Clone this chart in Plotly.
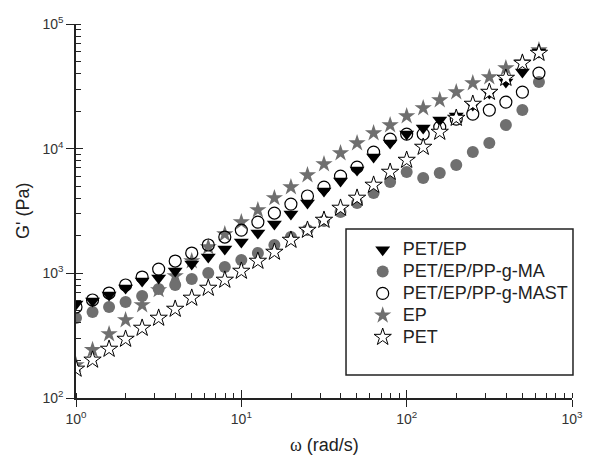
import plotly.graph_objects as go

# Angular frequency (rad/s): 10 points per decade from 1 to ~631
omega = [1.0, 1.259, 1.585, 1.995, 2.512, 3.162, 3.981, 5.012, 6.310, 7.943,
         10.0, 12.59, 15.85, 19.95, 25.12, 31.62, 39.81, 50.12, 63.10, 79.43,
         100.0, 125.9, 158.5, 199.5, 251.2, 316.2, 398.1, 501.2, 631.0]

# Storage modulus G' (Pa) per material
g_pet_ep = [567, 600, 670, 762, 867, 917, 1043, 1188, 1351, 1567,
            1782, 2104, 2485, 2990, 3660, 4570, 5500, 6730, 8570, 11090,
            13090, 14630, 16950, 18250, 22370, 27930, 34200, 41130, 59540]
g_pet_ep_ma = [438, 490, 537, 589, 658, 748, 806, 900, 1005, 1124,
               1279, 1455, 1687, 1955, 2224, 2625, 3100, 3660, 4400, 5400,
               6490, 5810, 6370, 7390, 9390, 11090, 15460, 20400, 34200]
g_pet_ep_mast = [537, 611, 695, 806, 934, 1082, 1255, 1455, 1687, 1955,
                 2224, 2578, 3045, 3594, 4170, 4920, 6030, 7120, 9390, 11940,
                 13090, 13090, 14900, 17270, 18930, 20400, 23650, 28440, 40380]
g_ep = [184, 243, 326, 422, 557, 735, 951, 1255, 1625, 2065,
        2578, 3220, 4020, 4920, 6140, 7520, 9220, 11090, 13340, 15460,
        18250, 21170, 24530, 28440, 33570, 37510, 44290, 49470, 61760]
g_pet = [171, 202, 247, 297, 364, 438, 517, 634, 762, 884,
         1043, 1255, 1482, 1849, 2224, 2675, 3340, 4020, 5110, 6490,
         8100, 10300, 13590, 17590, 22790, 28440, 36830, 48560, 58440]

x_tickvals = [1, 10, 100, 1000]
x_ticktext = ["10<sup>0</sup>", "10<sup>1</sup>", "10<sup>2</sup>", "10<sup>3</sup>"]
y_tickvals = [100, 1000, 10000, 100000]
y_ticktext = ["10<sup>2</sup>", "10<sup>3</sup>", "10<sup>4</sup>", "10<sup>5</sup>"]

GRAY = "#6f6f6f"
FONT = "Arial, Liberation Sans, sans-serif"


def legend_label(text):
    # Legend entries rendered at 18px while row spacing follows the smaller base size
    return f'<span style="font-size:18px">{text}</span>'


fig = go.Figure()

# Drawing order: later traces sit on top; legendrank keeps the legend order
fig.add_trace(go.Scatter(
    x=omega, y=g_pet_ep_ma, mode="markers", name=legend_label("PET/EP/PP-g-MA"),
    legendrank=2,
    marker=dict(symbol="circle", size=12, color=GRAY, line=dict(width=0))))
fig.add_trace(go.Scatter(
    x=omega, y=g_ep, mode="markers", name=legend_label("EP"), legendrank=4,
    marker=dict(symbol="star", size=13, color=GRAY, line=dict(width=0))))
fig.add_trace(go.Scatter(
    x=omega, y=g_pet_ep, mode="markers", name=legend_label("PET/EP"), legendrank=1,
    marker=dict(symbol="triangle-down", size=13, color="black", line=dict(width=0))))
fig.add_trace(go.Scatter(
    x=omega, y=g_pet_ep_mast, mode="markers", name=legend_label("PET/EP/PP-g-MAST"),
    legendrank=3,
    marker=dict(symbol="circle-open", size=12, color="black", line=dict(width=1.2))))
fig.add_trace(go.Scatter(
    x=omega, y=g_pet, mode="markers", name=legend_label("PET"), legendrank=5,
    marker=dict(symbol="star", size=13, color="white", line=dict(width=1, color="black"))))

# Companion axes that add the inward half of the major ticks
fig.add_trace(go.Scatter(x=[], y=[], xaxis="x2", yaxis="y2", showlegend=False,
                         hoverinfo="skip"))

axis_common = dict(showgrid=False, zeroline=False, mirror=False)

fig.update_layout(
    width=593, height=459,
    margin=dict(l=76, r=10, t=24, b=61),
    paper_bgcolor="white", plot_bgcolor="white",
    font=dict(family=FONT, color="#222222"),
    xaxis=dict(
        type="log", range=[0, 3], **axis_common,
        showline=True, linecolor="#222222", linewidth=1.5,
        tickvals=x_tickvals, ticktext=x_ticktext, ticklabeloverflow="allow",
        ticks="outside", ticklen=7, tickwidth=1.3, tickcolor="#222222",
        tickfont=dict(size=14, color="#333333"),
        minor=dict(ticks="inside", ticklen=5, tickwidth=1, tickcolor="#222222",
                   dtick="D1", showgrid=False),
    ),
    yaxis=dict(
        type="log", range=[2, 5], **axis_common,
        showline=True, linecolor="#222222", linewidth=1.5,
        tickvals=y_tickvals, ticktext=y_ticktext, ticklabeloverflow="allow",
        ticks="outside", ticklen=8, tickwidth=1.3, tickcolor="#222222",
        tickfont=dict(size=14, color="#333333"),
        minor=dict(ticks="inside", ticklen=5, tickwidth=1, tickcolor="#222222",
                   dtick="D1", showgrid=False),
    ),
    xaxis2=dict(
        type="log", range=[0, 3], overlaying="x", anchor="y2", side="bottom",
        **axis_common, showline=False, showticklabels=False,
        tickvals=x_tickvals, ticks="inside", ticklen=8, tickwidth=1.3,
        tickcolor="#222222",
    ),
    yaxis2=dict(
        type="log", range=[2, 5], overlaying="y", anchor="x2", side="left",
        **axis_common, showline=False, showticklabels=False,
        tickvals=y_tickvals, ticks="inside", ticklen=7, tickwidth=1.3,
        tickcolor="#222222",
    ),
    legend=dict(
        x=0.578, y=0.439, xanchor="left", yanchor="top",
        bgcolor="rgba(0,0,0,0)", borderwidth=0,
        font=dict(family=FONT, size=14.5, color="#222222"),
        tracegroupgap=0,
    ),
    showlegend=True,
)

# Legend frame
fig.add_shape(type="rect", xref="paper", yref="paper",
              x0=0.5444, x1=1.002, y0=0.0615, y1=0.4519,
              line=dict(color="#222222", width=1.5), fillcolor="rgba(0,0,0,0)",
              layer="above")

# Axis titles
fig.add_annotation(
    text="<span style=\"font-family:'Times New Roman','Liberation Serif',serif\">\u03c9</span> (rad/s)",
    xref="paper", yref="paper", x=0.5, y=-0.126, xanchor="center", yanchor="middle",
    showarrow=False, font=dict(family=FONT, size=18, color="#222222"))
fig.add_annotation(
    text="G' (Pa)", xref="paper", yref="paper", x=-0.107, y=0.5,
    xanchor="center", yanchor="middle", textangle=-90,
    showarrow=False, font=dict(family=FONT, size=18, color="#222222"))

fig.write_html("out.html")
